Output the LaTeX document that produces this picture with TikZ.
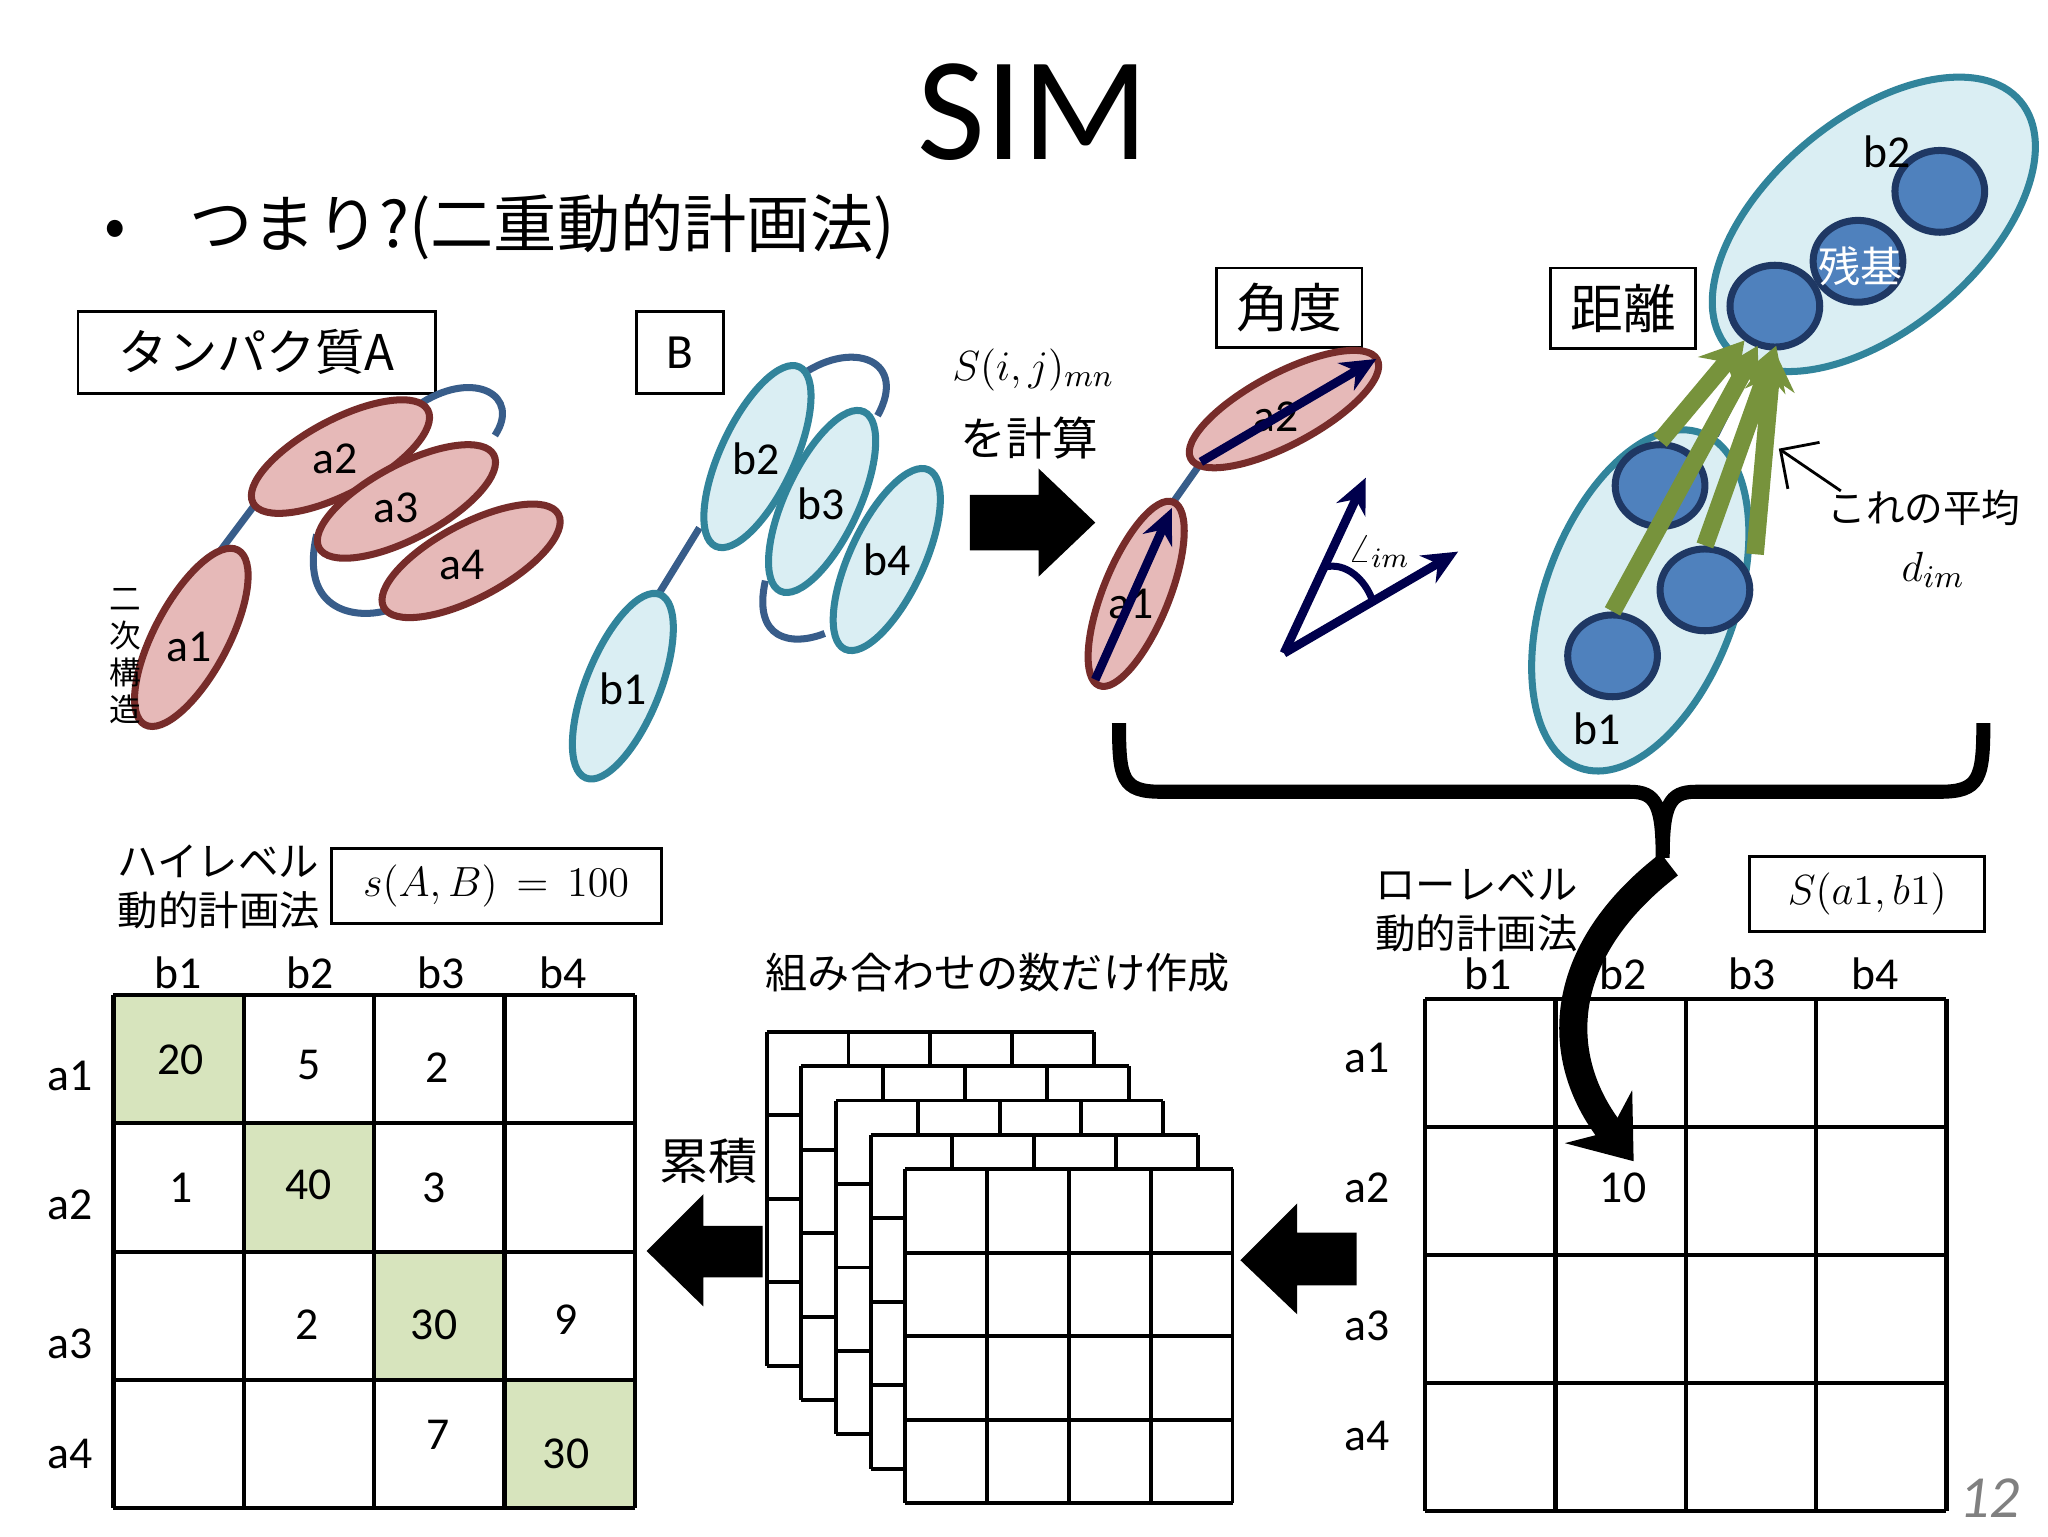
\documentclass[tikz,border=0pt]{standalone}
\usepackage{fontspec}
\setmainfont{Carlito}
\newfontfamily\cjk{Noto Sans CJK JP}
\usetikzlibrary{shapes.geometric,arrows.meta}
\definecolor{rfill}{HTML}{E6B9B8}
\definecolor{rdraw}{HTML}{772C2A}
\definecolor{bfill}{HTML}{DAEEF3}
\definecolor{bdraw}{HTML}{31849B}
\definecolor{dfill}{HTML}{4F81BD}
\definecolor{ddraw}{HTML}{1F3864}
\definecolor{gr}{HTML}{77933C}
\definecolor{gcell}{HTML}{D7E4BD}
\definecolor{lp}{HTML}{385D8A}
\def\uu{0.0132cm}
\begin{document}
\begin{tikzpicture}[x=0.0132cm,y=-0.0132cm,
 redE/.style={ellipse,draw=rdraw,fill=rfill,line width=2pt,inner sep=0pt},
 bluE/.style={ellipse,draw=bdraw,fill=bfill,line width=2pt,inner sep=0pt},
 dot/.style={ellipse,draw=ddraw,fill=dfill,line width=2pt,minimum width=68*\uu,minimum height=62*\uu},
 lbl/.style={font=\fontsize{13}{15}\selectfont},
 box/.style={draw,line width=0.8pt,inner sep=0pt},
 J/.style={font=\cjk\fontsize{13}{15}\selectfont},
 loop/.style={draw=lp,line width=2pt},
 grn/.style={draw=gr,line width=5pt,-{Stealth[length=12pt,width=14pt]}},
 nav/.style={draw=blue!30!black,line width=2.5pt,-{Stealth[length=10pt,width=9pt]}}]
\useasboundingbox (0,0) rectangle (1552,1164);
\fill[white] (0,0) rectangle (1552,1164);
% title
\node (title) at (783,85) {\fontsize{42}{48}\selectfont SIM};
\node[anchor=west,font=\cjk\fontsize{18}{22}\selectfont] (bul) at (70,172) {•\hspace{1em}つまり?(二重動的計画法)};
% protein A
\node[box,minimum width=271*\uu,minimum height=62*\uu,anchor=north west,J,font=\cjk\fontsize{14}{16}\selectfont] (boxA) at (58,235) {タンパク質A};
\draw[loop] (240,405) .. controls (225,470) and (280,470) .. (300,460);
\draw[loop] (320,305) .. controls (360,280) and (395,300) .. (375,330);
\draw[loop] (165,420) -- (195,380);
\node[redE,minimum width=150*\uu,minimum height=56*\uu,rotate=62] (a1) at (145,483) {};
\node[redE,minimum width=150*\uu,minimum height=56*\uu,rotate=28] (a2) at (258,346) {};
\node[redE,minimum width=150*\uu,minimum height=56*\uu,rotate=28] (a3) at (308,380) {};
\node[redE,minimum width=150*\uu,minimum height=56*\uu,rotate=28] (a4) at (357,425) {};
\node[lbl] at (143,490) {a1};\node[lbl] at (254,348) {a2};\node[lbl] at (300,385) {a3};\node[lbl] at (350,428) {a4};
\node[J,font=\cjk\fontsize{9}{10.5}\selectfont,align=center] (niji) at (95,497) {二\\次\\構\\造};
% protein B
\node[box,minimum width=66*\uu,minimum height=62*\uu,anchor=north west,font=\fontsize{14}{16}\selectfont] (boxB) at (481,235) {B};
\draw[loop] (580,440) .. controls (570,485) and (600,490) .. (625,480);
\draw[loop] (600,290) .. controls (640,255) and (690,270) .. (665,315);
\draw[loop] (490,465) -- (530,400);
\node[bluE,minimum width=150*\uu,minimum height=56*\uu,rotate=68] (b1) at (472,520) {};
\node[bluE,minimum width=150*\uu,minimum height=56*\uu,rotate=65] (b2) at (574,346) {};
\node[bluE,minimum width=150*\uu,minimum height=56*\uu,rotate=65] (b3) at (623,380) {};
\node[bluE,minimum width=150*\uu,minimum height=56*\uu,rotate=65] (b4) at (672,424) {};
\node[lbl] at (472,522) {b1};\node[lbl] at (573,348) {b2};\node[lbl] at (622,382) {b3};\node[lbl] at (672,424) {b4};
% S(i,j)
\node (Sij) at (783,280) {\fontsize{13}{16}\selectfont$S(i,j)_{mn}$};
\node[J] (keisan) at (780,332) {を計算};
\fill (735,375) -- (787,375) -- (787,355) -- (830,396) -- (787,437) -- (787,417) -- (735,417) -- cycle;
% angle
\node[box,minimum width=110*\uu,minimum height=60*\uu,anchor=north west,font=\cjk\fontsize{15}{17}\selectfont] (kakudo) at (921,202) {角度};
\draw[loop] (888,382) -- (912,348);
\node[redE,minimum width=150*\uu,minimum height=50*\uu,rotate=68] (c1) at (861,450) {};
\node[redE,minimum width=160*\uu,minimum height=54*\uu,rotate=28] (c2) at (973,310) {};
\node[lbl] at (857,458) {a1};\node[lbl] at (967,316) {a2};
\coordinate (p1) at (830,515);\coordinate (p2) at (888,385);
\coordinate (q1) at (910,350);\coordinate (q2) at (1043,272);
\draw[nav] (p1) -- (p2);\draw[nav] (q1) -- (q2);
\coordinate (o) at (973,495);\coordinate (r1) at (1035,362);\coordinate (r2) at (1105,418);
\draw[nav] (o) -- (r1);\draw[nav] (o) -- (r2);
\draw[blue!30!black,line width=2pt] (1003,430) .. controls (1020,425) and (1035,440) .. (1040,455);
\node (ang) at (1045,418) {\fontsize{11}{13}\selectfont$\angle_{im}$};
% distance
\node[box,minimum width=110*\uu,minimum height=61*\uu,anchor=north west,font=\cjk\fontsize{15}{17}\selectfont] (kyori) at (1174,202) {距離};
\draw[loop] (1300,330) -- (1320,290);
\node[bluE,minimum width=290*\uu,minimum height=160*\uu,rotate=40] (E2) at (1420,170) {};
\node[bluE,minimum width=270*\uu,minimum height=145*\uu,rotate=70] (E1) at (1243,455) {};
\node[dot] (d1) at (1470,145) {};
\node[dot] (d2) at (1408,198) {};
\node[dot] (d3) at (1345,232) {};
\node[dot] (d4) at (1258,368) {};
\node[dot] (d5) at (1292,447) {};
\node[dot] (d6) at (1222,497) {};
\node[J,white,font=\cjk\fontsize{12}{14}\selectfont] at (1410,202) {残基};
\node[lbl] at (1430,115) {b2};\node[lbl] at (1210,552) {b1};
\draw[grn] (d4.north) -- (1322,258);
\draw[grn] (d6.north) -- (1332,262);
\draw[grn] (d5.north) -- (1346,262);
\draw[grn] (1330,420) -- (1344,264);
\coordinate (avg) at (1348,340);
\node[J,font=\cjk\fontsize{11}{13}\selectfont] (heikin) at (1458,385) {これの平均};
\draw[-{Straight Barb[length=8pt]},line width=0.8pt] (1395,372) -- (avg);
\node (dim) at (1465,432) {\fontsize{13}{15}\selectfont$d_{im}$};
% brace
\draw[line width=4pt] (848,548) .. controls (848,590) and (850,600) .. (880,600) -- (1235,600) .. controls (1255,600) and (1260,610) .. (1260,650)
 (1260,650) .. controls (1260,610) and (1265,600) .. (1285,600) -- (1470,600) .. controls (1500,600) and (1503,590) .. (1503,548);
\coordinate (bt) at (1265,655);\coordinate (bh) at (1238,880);
\draw[line width=8pt,-{Stealth[length=16pt,width=24pt]}] (bt) .. controls (1180,720) and (1175,800) .. (bh);
% high level
\node[J,align=left,anchor=west,font=\cjk\fontsize{11.5}{14}\selectfont] (hl) at (80,672) {ハイレベル\\動的計画法};
\node[box,minimum width=250*\uu,minimum height=57*\uu,anchor=north west] (sAB) at (250,642) {\fontsize{13}{15}\selectfont$s(A,B)\,=\,100$};
\fill[gcell] (86,754) rectangle (184,851) (184,851) rectangle (283,948) (283,948) rectangle (382,1046) (382,1046) rectangle (481,1143);
\foreach \i in {0,...,4}{\draw[line width=1.2pt] (86+98.75*\i,754) -- (86+98.75*\i,1143); \draw[line width=1.2pt] (86,754+97.25*\i) -- (481,754+97.25*\i);}
\foreach \t/\x in {b1/135,b2/235,b3/334,b4/427}{\node[lbl] at (\x,737) {\t};}
\foreach \t/\y in {a1/815,a2/913,a3/1018,a4/1102}{\node[lbl] at (53,\y) {\t};}
\foreach \t/\x/\y in {20/137/803,5/234/807,2/331/809,1/137/900,40/234/898,3/329/900,2/233/1004,30/329/1004,9/429/1000,7/332/1087,30/429/1102}{\node[lbl] at (\x,\y) {\t};}
\node[J,font=\cjk\fontsize{14}{16}\selectfont] (ruiseki) at (537,880) {累積};
\fill (578,929) -- (533,929) -- (533,905) -- (490,948) -- (533,990) -- (533,968) -- (578,968) -- cycle;
\node[J,font=\cjk\fontsize{12}{14}\selectfont] (kumi) at (756,737) {組み合わせの数だけ作成};
\foreach \k in {0,...,4}{
 \pgfmathsetmacro\ox{581+26.25*\k}\pgfmathsetmacro\oy{782+26*\k}
 \fill[white] (\ox,\oy) rectangle (\ox+248,\oy+253);
 \foreach \i in {0,...,4}{\draw[line width=1.1pt] (\ox+62*\i,\oy) -- (\ox+62*\i,\oy+253); \draw[line width=1.1pt] (\ox,\oy+63.25*\i) -- (\ox+248,\oy+63.25*\i);}
}
\fill (1028,934) -- (983,934) -- (983,912) -- (940,955) -- (983,996) -- (983,974) -- (1028,974) -- cycle;
% low level
\node[J,align=left,anchor=west,font=\cjk\fontsize{11.5}{14}\selectfont] (ll) at (1033,690) {ローレベル\\動的計画法};
\node[box,minimum width=178*\uu,minimum height=57*\uu,anchor=north west] (Sa) at (1325,648) {\fontsize{13}{15}\selectfont$S(a1,b1)$};
\foreach \i in {0,...,4}{\draw[line width=1.2pt] (1080+98.75*\i,757) -- (1080+98.75*\i,1145); \draw[line width=1.2pt] (1080,757+97*\i) -- (1475,757+97*\i);}
\foreach \t/\x in {b1/1128,b2/1230,b3/1328,b4/1421}{\node[lbl] at (\x,738) {\t};}
\foreach \t/\y in {a1/802,a2/900,a3/1005,a4/1088}{\node[lbl] at (1036,\y) {\t};}
\node[lbl] at (1230,900) {10};
\node[gray,font=\itshape\fontsize{17}{19}\selectfont] (pg) at (1508,1135) {12};
\end{tikzpicture}
\end{document}
